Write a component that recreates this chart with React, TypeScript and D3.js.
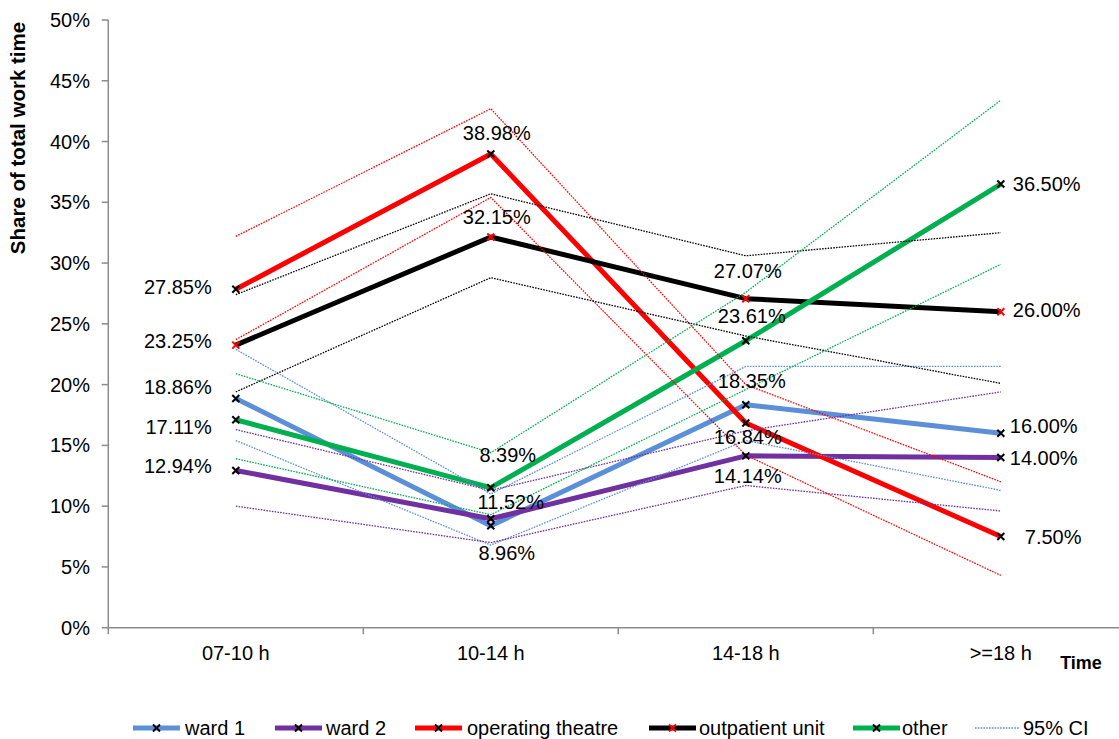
import React from "react";
import * as d3 from "d3";

const categories = ["07-10 h", "10-14 h", "14-18 h", ">=18 h"];
const yTicks = [0, 5, 10, 15, 20, 25, 30, 35, 40, 45, 50];

const seriesNames = ["ward 1", "ward 2", "operating theatre", "outpatient unit", "other"];
const ward1 = [18.86, 8.39, 18.35, 16.0];
const ward2 = [12.94, 8.96, 14.14, 14.0];
const operatingTheatre = [27.85, 38.98, 16.84, 7.5];
const outpatientUnit = [23.25, 32.15, 27.07, 26.0];
const other = [17.11, 11.52, 23.61, 36.5];

const ward1Upper = [22.9, 11.0, 21.5, 21.5];
const ward1Lower = [15.4, 6.8, 15.4, 11.3];
const ward2Upper = [16.3, 11.3, 16.2, 19.4];
const ward2Lower = [10.0, 7.0, 11.7, 9.6];
const opUpper = [32.2, 42.7, 20.0, 12.0];
const opLower = [23.7, 35.4, 14.2, 4.3];
const outUpper = [27.4, 35.7, 30.6, 32.5];
const outLower = [19.4, 28.8, 24.0, 20.1];
const otherUpper = [20.9, 14.4, 27.6, 43.4];
const otherLower = [13.9, 9.3, 19.6, 29.9];

// label placement (pixel offsets from the point) - layout only
const labelOffsets: [number, number, string][][] = [
  [[-24, -11.5, "end"], [17, -71, "middle"], [6, -24, "middle"], [9, -7, "start"]],
  [[-24, -4.4, "end"], [16, 34, "middle"], [2, 20, "middle"], [9, 0, "start"]],
  [[-24, -2.5, "end"], [6, -21, "middle"], [2, 14, "middle"], [24, 0, "start"]],
  [[-24, -4.4, "end"], [6, -20, "middle"], [2, -28, "middle"], [12, -2, "start"]],
  [[-24, 7, "end"], [20, 14, "middle"], [6, -25, "middle"], [12, 0, "start"]],
];

const colors = ["#5B8FD8", "#7030A0", "#FF0000", "#000000", "#00B050"];
const markerColors = ["#000", "#000", "#000", "#FF0000", "#000"];

const W = 1119;
const H = 739;
const FONT = "Arial, 'Liberation Sans', sans-serif";

export default function App() {
  const values = [ward1, ward2, operatingTheatre, outpatientUnit, other];
  const cis = [
    [ward1Upper, ward1Lower],
    [ward2Upper, ward2Lower],
    [opUpper, opLower],
    [outUpper, outLower],
    [otherUpper, otherLower],
  ];
  const x = d3.scaleBand<string>().domain(categories).range([108.3, 1128.3]);
  const y = d3.scaleLinear().domain([0, 50]).range([627.7, 20]);
  const cx = (i: number) => (x(categories[i]) as number) + x.bandwidth() / 2;
  const line = d3
    .line<number>()
    .x((_, i) => cx(i))
    .y((d) => y(d));

  const xMark = (px: number, py: number, color: string, key: string) => (
    <path
      key={key}
      d={`M${px - 3.5},${py - 3.5}L${px + 3.5},${py + 3.5}M${px - 3.5},${py + 3.5}L${px + 3.5},${py - 3.5}`}
      stroke={color}
      strokeWidth={2}
      fill="none"
    />
  );

  const legendItems = [
    { name: seriesNames[0], x0: 133, tx: 185, color: colors[0], mc: markerColors[0], ci: false },
    { name: seriesNames[1], x0: 275, tx: 326, color: colors[1], mc: markerColors[1], ci: false },
    { name: seriesNames[2], x0: 415, tx: 467, color: colors[2], mc: markerColors[2], ci: false },
    { name: seriesNames[3], x0: 649, tx: 699, color: colors[3], mc: markerColors[3], ci: false },
    { name: seriesNames[4], x0: 853, tx: 902, color: colors[4], mc: markerColors[4], ci: false },
    { name: "95% CI", x0: 975, tx: 1023, color: colors[0], mc: "", ci: true },
  ];
  const ly = 728;

  return (
    <svg
      width={W}
      height={H}
      style={{ position: "absolute", left: 0, top: 0, background: "#fff" }}
      fontFamily={FONT}
    >
      <rect width={W} height={H} fill="#fff" />
      {/* axes */}
      <line x1={108.3} x2={108.3} y1={y(50)} y2={y(0)} stroke="#8c8c8c" strokeWidth={1.5} />
      <line x1={108.3} x2={W} y1={y(0)} y2={y(0)} stroke="#8c8c8c" strokeWidth={1.5} />
      {yTicks.map((t) => (
        <g key={t}>
          <line x1={101.7} x2={108.3} y1={y(t)} y2={y(t)} stroke="#8c8c8c" strokeWidth={1.5} />
          <text x={90} y={y(t)} dy="0.35em" textAnchor="end" fontSize={20} fill="#000">
            {t}%
          </text>
        </g>
      ))}
      {categories.map((c, i) => (
        <g key={c}>
          <line
            x1={x(c) as number}
            x2={x(c) as number}
            y1={y(0)}
            y2={y(0) + 6.5}
            stroke="#8c8c8c"
            strokeWidth={1.5}
          />
          <text x={cx(i)} y={653} dy="0.35em" textAnchor="middle" fontSize={20}>
            {c}
          </text>
        </g>
      ))}
      <text
        transform={`translate(18,138) rotate(-90)`}
        textAnchor="middle"
        dy="0.35em"
        fontSize={20.5}
        fontWeight="bold"
      >
        Share of total work time
      </text>
      <text x={1081} y={663} dy="0.35em" textAnchor="middle" fontSize={18} fontWeight="bold">
        Time
      </text>

      {/* main series */}
      {values.map((v, s) => (
        <path key={"m" + s} d={line(v) as string} stroke={colors[s]} strokeWidth={5} fill="none" strokeLinejoin="round" />
      ))}
      {/* CI lines */}
      {cis.map((pair, s) =>
        pair.map((v, k) => (
          <path
            key={"ci" + s + k}
            d={line(v) as string}
            stroke={colors[s]}
            strokeWidth={1.3}
            strokeDasharray="1.6 1.2"
            fill="none"
          />
        ))
      )}
      {/* markers */}
      {values.map((v, s) => v.map((d, i) => xMark(cx(i), y(d), markerColors[s], `mk${s}-${i}`)))}
      {/* labels */}
      {values.map((v, s) =>
        v.map((d, i) => {
          const [dx, dy, anchor] = labelOffsets[s][i];
          return (
            <text
              key={`lb${s}-${i}`}
              x={cx(i) + dx}
              y={y(d) + dy}
              dy="0.35em"
              textAnchor={anchor as any}
              fontSize={20}
              fill="#000"
            >
              {d.toFixed(2)}%
            </text>
          );
        })
      )}
      {/* legend */}
      {legendItems.map((it) => (
        <g key={it.name}>
          {it.ci ? (
            <line x1={it.x0} x2={it.x0 + 45} y1={ly} y2={ly} stroke={it.color} strokeWidth={1.3} strokeDasharray="1.6 1.2" />
          ) : (
            <>
              <line x1={it.x0} x2={it.x0 + 47} y1={ly} y2={ly} stroke={it.color} strokeWidth={5} />
              {xMark(it.x0 + 23.5, ly, it.mc, "lm" + it.name)}
            </>
          )}
          <text x={it.tx} y={ly} dy="0.35em" fontSize={20}>
            {it.name}
          </text>
        </g>
      ))}
    </svg>
  );
}
